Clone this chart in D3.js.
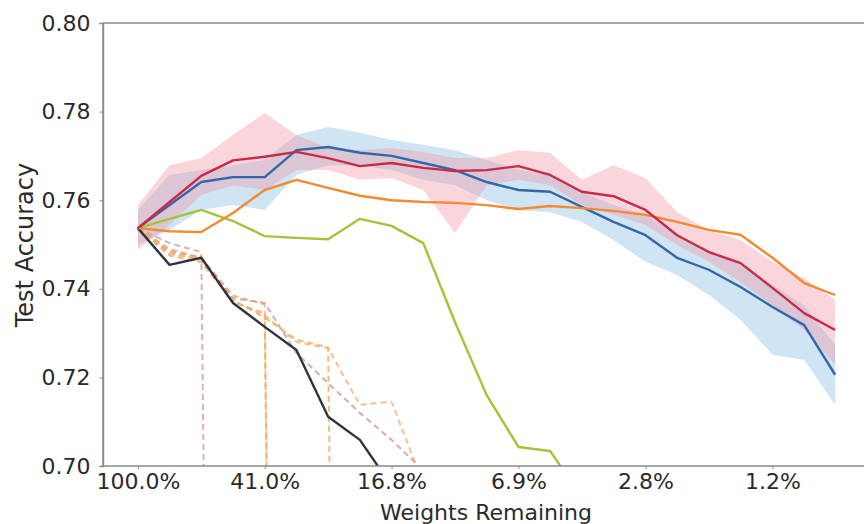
<!DOCTYPE html>
<html><head><meta charset="utf-8">
<script src="https://cdn.jsdelivr.net/npm/d3@7"></script>
<style>body{margin:0;background:#fff}svg{display:block}text{font-family:"DejaVu Sans",sans-serif;fill:#2a2a2a}</style>
</head><body><svg id="c" width="864" height="524"></svg>
<script>
// weights remaining (%) at each pruning round
const weightsRemaining = [100, 80, 64, 51.2, 40.96, 32.77, 26.21, 20.97, 16.78, 13.42, 10.74, 8.59, 6.87, 5.5, 4.4, 3.52, 2.81, 2.25, 1.8, 1.44, 1.15, 0.92, 0.74];
const xTickValues = [100, 40.96, 16.78, 6.87, 2.81, 1.15];
const xTickLabels = ["100.0%", "41.0%", "16.8%", "6.9%", "2.8%", "1.2%"];
const yTickValues = [0.70, 0.72, 0.74, 0.76, 0.78, 0.80];

const redMean = [0.7537, 0.7596, 0.7655, 0.7690, 0.7698, 0.7709, 0.7695, 0.7677, 0.7684, 0.7673, 0.7666, 0.7668, 0.7677, 0.7657, 0.7619, 0.7609, 0.7578, 0.7521, 0.7483, 0.7458, 0.7402, 0.7345, 0.7307];
const redHi = [0.7589, 0.7679, 0.7695, 0.7747, 0.7797, 0.7747, 0.7718, 0.7713, 0.7718, 0.7709, 0.7695, 0.7695, 0.7713, 0.7707, 0.7646, 0.7679, 0.7650, 0.7573, 0.7533, 0.7510, 0.7461, 0.7424, 0.7375];
const redLo = [0.7488, 0.7544, 0.7612, 0.7634, 0.7623, 0.7668, 0.7668, 0.7646, 0.7650, 0.7623, 0.7526, 0.7634, 0.7646, 0.7634, 0.7589, 0.7567, 0.7544, 0.7499, 0.7461, 0.7415, 0.7363, 0.7307, 0.7228];

const blueMean = [0.7537, 0.7589, 0.7641, 0.7652, 0.7652, 0.7713, 0.7720, 0.7707, 0.7700, 0.7684, 0.7668, 0.7641, 0.7623, 0.7619, 0.7585, 0.7551, 0.7521, 0.7470, 0.7443, 0.7404, 0.7359, 0.7318, 0.7206];
const blueHi = [0.7578, 0.7657, 0.7668, 0.7679, 0.7691, 0.7747, 0.7765, 0.7752, 0.7736, 0.7725, 0.7713, 0.7691, 0.7668, 0.7657, 0.7619, 0.7589, 0.7567, 0.7521, 0.7488, 0.7454, 0.7409, 0.7363, 0.7273];
const blueLo = [0.7499, 0.7533, 0.7578, 0.7589, 0.7578, 0.7657, 0.7679, 0.7679, 0.7668, 0.7646, 0.7634, 0.7600, 0.7578, 0.7573, 0.7551, 0.7510, 0.7461, 0.7431, 0.7386, 0.7330, 0.7251, 0.7239, 0.7138];

const orangeMean = [0.7537, 0.7530, 0.7528, 0.7571, 0.7623, 0.7646, 0.7628, 0.7610, 0.7600, 0.7596, 0.7594, 0.7589, 0.7580, 0.7587, 0.7582, 0.7576, 0.7567, 0.7551, 0.7533, 0.7522, 0.7470, 0.7413, 0.7386];
const greenMean = [0.7537, 0.7558, 0.7578, 0.7553, 0.7519, 0.7515, 0.7512, 0.7558, 0.7542, 0.7503, 0.7325, 0.7160, 0.7043, 0.7034, 0.6930];
const darkMean = [0.7537, 0.7454, 0.7470, 0.7368, 0.7314, 0.7262, 0.7111, 0.7059, 0.6955];

const dashA = [0.7537, 0.7503, 0.7483, 0.10];
const dashB = [0.7537, 0.7490, 0.7470, 0.7385, 0.7365, 0.10];
const dashC = [0.7537, 0.7475, 0.7460, 0.7370, 0.7345, 0.10];
const dashD = [0.7537, 0.7480, 0.7465, 0.7375, 0.7335, 0.7285, 0.7268, 0.10];
const dashE = [0.7537, 0.7485, 0.7470, 0.7379, 0.7368, 0.7255, 0.7187, 0.7120, 0.7059, 0.6990];
const dashF = [0.7537, 0.7480, 0.7468, 0.7372, 0.7340, 0.7280, 0.7266, 0.7138, 0.7145, 0.6960];

const svg = d3.select("#c");
const x = d3.scaleLog().domain([127.8, 0.579]).range([103, 870]);
const y = d3.scaleLinear().domain([0.70, 0.80]).range([466, 23]);

svg.append("clipPath").attr("id", "clip").append("rect")
  .attr("x", 103).attr("y", 23).attr("width", 767).attr("height", 443);
const plot = svg.append("g").attr("clip-path", "url(#clip)");

function band(hi, lo, color, op) {
  const a = d3.area().x((d, i) => x(weightsRemaining[i])).y0((d, i) => y(lo[i])).y1(d => y(d));
  plot.append("path").datum(hi).attr("d", a).attr("fill", color).attr("opacity", op);
}
function line(vals, color, w, dash, op) {
  const l = d3.line().x((d, i) => x(weightsRemaining[i])).y(d => y(d));
  const p = plot.append("path").datum(vals).attr("d", l).attr("fill", "none")
    .attr("stroke", color).attr("stroke-width", w).attr("stroke-linejoin", "round")
    .attr("opacity", op == null ? 1 : op);
  if (dash) p.attr("stroke-dasharray", dash);
}

band(blueHi, blueLo, "#8fc1e3", 0.42);
band(redHi, redLo, "#f08c9e", 0.36);

line(dashA, "#d9a3a0", 2, "6,4", 0.85);
line(dashB, "#f4a860", 2, "6,4", 0.8);
line(dashC, "#f4a860", 2, "6,4", 0.8);
line(dashD, "#f4a860", 2, "6,4", 0.8);
line(dashE, "#d49a9a", 2, "6,4", 0.85);
line(dashF, "#f4b070", 2, "6,4", 0.8);

line(darkMean, "#30343e", 2.4);
line(greenMean, "#a5c23a", 2.4);
line(blueMean, "#3268a8", 2.4);
line(orangeMean, "#f28a30", 2.4);
line(redMean, "#c92a48", 2.4);

// spines
const spine = "#8a8a8a";
svg.append("line").attr("x1", 103).attr("x2", 870).attr("y1", 23).attr("y2", 23).attr("stroke", spine).attr("stroke-width", 1.4);
svg.append("line").attr("x1", 103).attr("x2", 103).attr("y1", 23).attr("y2", 466).attr("stroke", spine).attr("stroke-width", 1.4);

const xAxis = svg.append("g").attr("transform", "translate(0,466)")
  .call(d3.axisBottom(x).tickValues(xTickValues).tickFormat((d, i) => xTickLabels[i]).tickSizeOuter(0).tickSize(3).tickPadding(4));
const yAxis = svg.append("g").attr("transform", "translate(103,0)")
  .call(d3.axisLeft(y).tickValues(yTickValues).tickFormat(d3.format(".2f")).tickSizeOuter(0).tickSize(3.5).tickPadding(9));
[xAxis, yAxis].forEach(g => {
  g.select(".domain").attr("stroke", spine).attr("stroke-width", 1.4);
  g.selectAll(".tick line").attr("stroke", spine);
  g.selectAll("text").style("font-family", "DejaVu Sans").style("font-size", "22px").attr("fill", "#2a2a2a");
});
xAxis.select(".domain").attr("d", "M103,0H870");

svg.append("text").attr("x", 486).attr("y", 520).attr("text-anchor", "middle")
  .style("font-size", "22px").text("Weights Remaining");
svg.append("text").attr("transform", "translate(33,245) rotate(-90)").attr("text-anchor", "middle")
  .style("font-size", "24px").text("Test Accuracy");
</script></body></html>
